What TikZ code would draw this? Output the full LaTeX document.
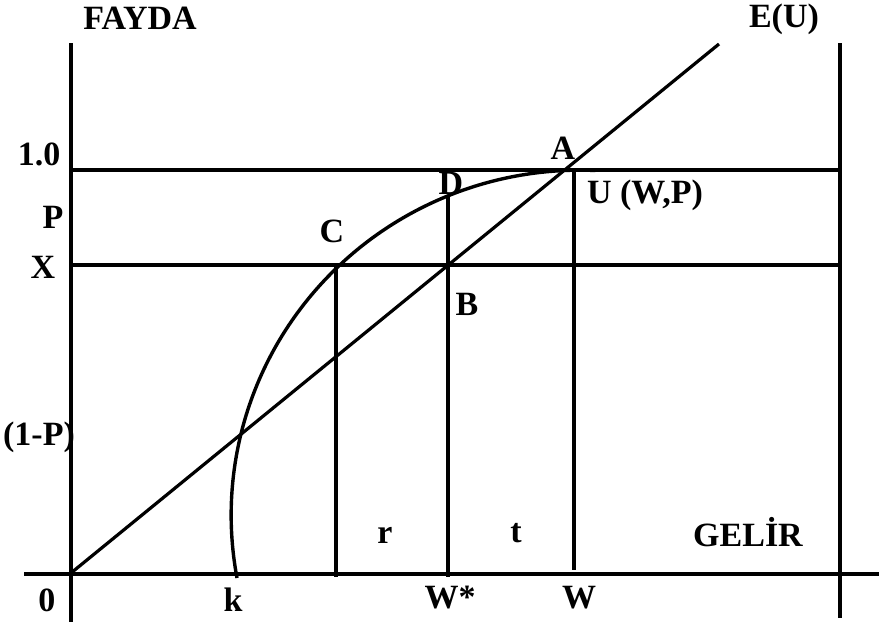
\documentclass[tikz,border=0pt]{standalone}
\usepackage{fontspec}
\setmainfont{Liberation Serif}
\usepackage{tikz}
\tikzset{
  axisline/.style={line width=1.9pt},
  guideline/.style={line width=1.6pt},
  utilcurve/.style={line width=1.7pt},
  mylbl/.style={font=\fontsize{17}{20}\selectfont\bfseries, inner sep=0pt},
}

\begin{document}
\begin{tikzpicture}[x=0.5pt, y=-0.5pt]
  \useasboundingbox (0,0) rectangle (879,622);
  % frame and axes
  \coordinate (ytop) at (71,43);
  \coordinate (ybot) at (71,622);
  \coordinate (rtop) at (840,43);
  \coordinate (rbot) at (840,618);
  \coordinate (xleft) at (24,574);
  \coordinate (xright) at (879,574);
  \coordinate (o) at (71,573);
  \coordinate (eu) at (719,44);
  \coordinate (onel) at (71,170);
  \coordinate (oner) at (840,170);
  \coordinate (xl) at (71,265);
  \coordinate (xr) at (840,265);
  \coordinate (c) at (336,265);
  \coordinate (cb) at (336,577);
  \coordinate (d) at (448,195);
  \coordinate (wsb) at (448,577);
  \coordinate (wt) at (574,170);
  \coordinate (wb) at (574,570);
  \coordinate (k) at (237,578);

  \draw[axisline] (ytop) -- (ybot);
  \draw[axisline] (rtop) -- (rbot);
  \draw[axisline] (xleft) -- (xright);
  \draw[guideline] (onel) -- (oner);
  \draw[guideline] (xl) -- (xr);
  \draw[guideline] (o) -- (eu);
  \draw[guideline] (c) -- (cb);
  \draw[guideline] (d) -- (wsb);
  \draw[guideline] (wt) -- (wb);
  \draw[utilcurve] (k) arc[start angle=190.5, end angle=87.5, x radius=174.5pt, y radius=172.5pt];

  % labels
  \node[mylbl] (fayda) at (140,18) {FAYDA};
  \node[mylbl] (eulbl) at (784,19) {E(U)};
  \node[mylbl] (one) at (39,154) {1.0};
  \node[mylbl] (plbl) at (53,217) {P};
  \node[mylbl] (xlbl) at (43,267) {X};
  \node[mylbl] (onemp) at (39,437) {(1-P)};
  \node[mylbl] (zero) at (47,600) {0};
  \node[mylbl] (klbl) at (233,600) {k};
  \node[mylbl] (wstar) at (450,598) {W*};
  \node[mylbl] (wlbl) at (579,598) {W};
  \node[mylbl] (rlbl) at (385,535) {r};
  \node[mylbl] (tlbl) at (516,533) {t};
  \node[mylbl] (gelir) at (748,532) {GELİR};
  \node[mylbl] (albl) at (563,148) {A};
  \node[mylbl] (dlbl) at (451,183) {D};
  \node[mylbl] (uwp) at (645,195) {U (W,P)};
  \node[mylbl] (clbl) at (332,231) {C};
  \node[mylbl] (blbl) at (467,304) {B};
\end{tikzpicture}
\end{document}
